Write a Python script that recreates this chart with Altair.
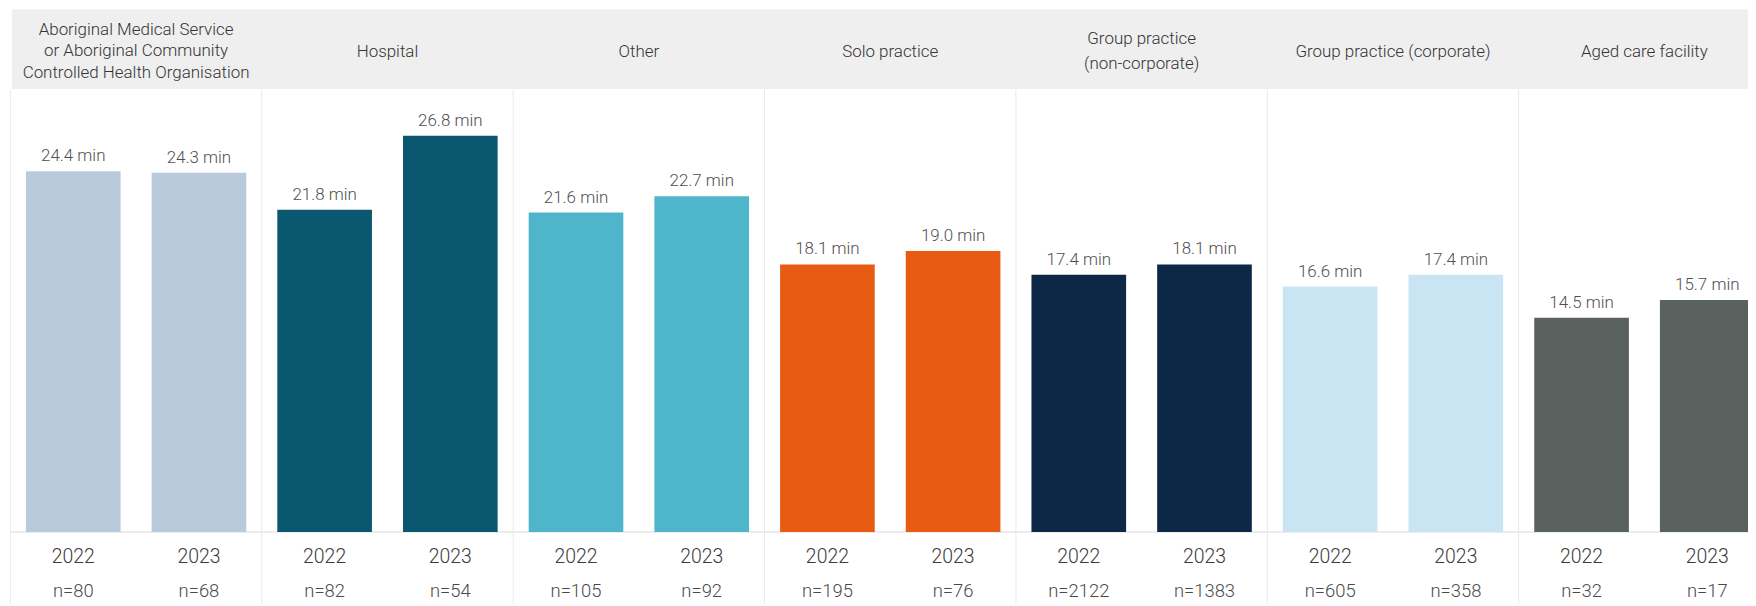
import altair as alt
import pandas as pd

groups = [
    "Aboriginal Medical Service\nor Aboriginal Community\nControlled Health Organisation",
    "Hospital",
    "Other",
    "Solo practice",
    "Group practice\n(non-corporate)",
    "Group practice (corporate)",
    "Aged care facility",
]
years = ["2022", "2023"]
values_2022 = [24.4, 21.8, 21.6, 18.1, 17.4, 16.6, 14.5]
values_2023 = [24.3, 26.8, 22.7, 19.0, 18.1, 17.4, 15.7]
n_2022 = [80, 82, 105, 195, 2122, 605, 32]
n_2023 = [68, 54, 92, 76, 1383, 358, 17]
colors = ["#b8cadb", "#0a5770", "#4fb5ca", "#e85b12", "#0d2847", "#c9e5f4", "#59625f"]

rows = []
for i, g in enumerate(groups):
    for yr, vals, ns in (("2022", values_2022, n_2022), ("2023", values_2023, n_2023)):
        rows.append(dict(key=f"{i}-{yr}", group=g, year=yr, value=vals[i],
                         n=f"n={ns[i]}", label=f"{vals[i]:.1f} min", color=colors[i]))
df = pd.DataFrame(rows)
keys = list(df["key"])

W, H = 1747, 597
FONT = "Roboto"
x_scale = alt.Scale(domain=keys, range=[2.4, 1769.2], paddingInner=0.247, paddingOuter=0.1235)
y_scale = alt.Scale(domain=[0, 30], range=[525, 79.5])
X = alt.X("key:N", scale=x_scale, axis=None)
X0 = alt.X("key:N", scale=x_scale, axis=None, bandPosition=0)

base = alt.Chart(df)

band = alt.Chart(pd.DataFrame({"a": [0]})).mark_rect(color="#efefef").encode(
    x=alt.value(4), x2=alt.value(W), y=alt.value(0), y2=alt.value(80)
)

dividers = base.transform_filter(alt.datum.year == "2022").mark_rule(
    color="#e9e9e9", strokeWidth=1, xOffset=-15.6
).encode(x=X0, y=alt.value(81), y2=alt.value(H))

baseline = alt.Chart(pd.DataFrame({"v": [0]})).mark_rule(color="#e6e6e6", strokeWidth=1.5).encode(
    y=alt.Y("v:Q", scale=y_scale, axis=None), x=alt.value(2), x2=alt.value(W)
)

bars = base.mark_bar(clip=True).encode(
    x=X,
    y=alt.Y("value:Q", scale=y_scale, axis=None),
    color=alt.Color("color:N", scale=None),
)

labels = base.mark_text(baseline="alphabetic", dy=-10, fontSize=17, fontWeight=300,
                        color="#505050", font=FONT).encode(
    x=X, y=alt.Y("value:Q", scale=y_scale, axis=None), text="label:N"
)

year_labels = base.mark_text(baseline="middle", fontSize=19.5, fontWeight=300,
                             color="#3c3c3c", font=FONT).encode(
    x=X, y=alt.value(550), text="year:N"
)

n_labels = base.mark_text(baseline="middle", fontSize=18.5, fontWeight=300,
                          color="#4a4a4a", font=FONT).encode(
    x=X, y=alt.value(584), text="n:N"
)

HEAD_CY = 42.5
header_base = base.transform_filter(alt.datum.year == "2023").transform_calculate(
    lines="length(split(datum.group, '\\n'))"
)
header_layers = []
for nl, lh in ((1, 21.5), (2, 25.0), (3, 21.5)):
    header_layers.append(
        header_base.transform_filter(alt.datum.lines == nl).mark_text(
            align="center", baseline="middle", lineBreak="\n", lineHeight=lh, dx=-15.6,
            fontSize=17, fontWeight=300, color="#333333", font=FONT
        ).encode(x=X0, y=alt.value(HEAD_CY - (nl - 1) * lh / 2), text="group:N")
    )

chart = alt.layer(band, dividers, baseline, bars, labels, year_labels, n_labels, *header_layers).properties(
    width=W, height=H, autosize=alt.AutoSizeParams(type="none"), padding=0, background="white"
).configure_view(stroke=None)

chart.save("out.html", embed_options={"renderer": "svg", "actions": False})
